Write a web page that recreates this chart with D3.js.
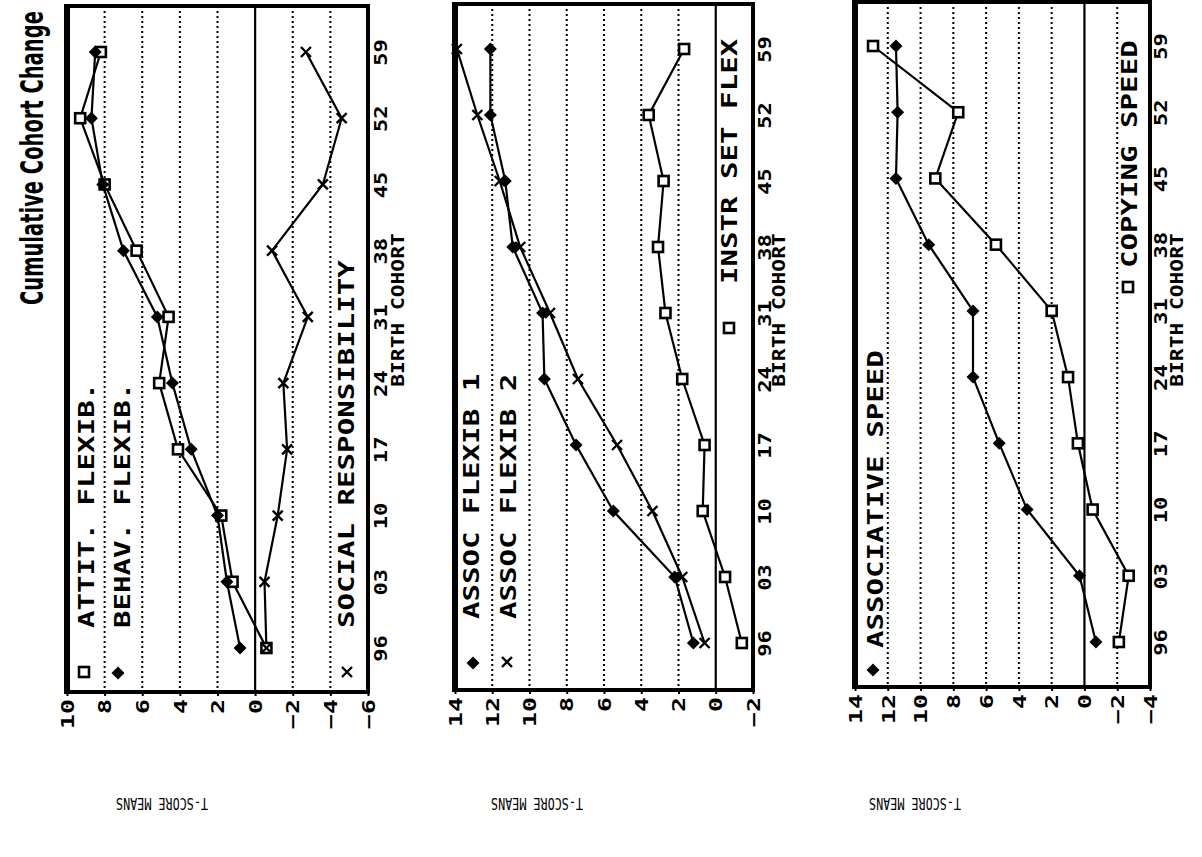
<!DOCTYPE html>
<html>
<head>
<meta charset="utf-8">
<style>
  body { margin: 0; background: #fff; }
  svg { display: block; }
  text { fill: #000; }
</style>
</head>
<body>
<svg id="chart" width="1202" height="857"></svg>
<script src="https://d3js.org/d3.v7.min.js"></script>
<script>
// birth cohorts, bottom (96) to top (59)
const cohorts = ["96", "03", "10", "17", "24", "31", "38", "45", "52", "59"];

// panel 1
const attitFlexib = [-0.6, 1.2, 1.8, 4.1, 5.1, 4.6, 6.3, 8.0, 9.3, 8.2];
const behavFlexib = [0.8, 1.5, 2.0, 3.4, 4.4, 5.2, 7.0, 8.1, 8.7, 8.5];
const socialResp = [-0.6, -0.5, -1.2, -1.7, -1.5, -2.8, -0.9, -3.6, -4.6, -2.7];
// panel 2
const assocFlexib1 = [1.2, 2.2, 5.5, 7.5, 9.2, 9.3, 10.9, 11.3, 12.1, 12.1];
const assocFlexib2 = [0.6, 1.8, 3.4, 5.3, 7.4, 8.9, 10.5, 11.6, 12.8, 13.9];
const instrSetFlex = [-1.4, -0.5, 0.7, 0.6, 1.8, 2.7, 3.1, 2.8, 3.6, 1.7];
// panel 3
const associativeSpeed = [-0.7, 0.3, 3.5, 5.2, 6.8, 6.8, 9.5, 11.5, 11.4, 11.5];
const copyingSpeed = [-2.1, -2.7, -0.5, 0.4, 1.0, 2.0, 5.4, 9.1, 7.7, 12.9];

const ticks1 = [10, 8, 6, 4, 2, 0, -2, -4, -6];
const ticks2 = [14, 12, 10, 8, 6, 4, 2, 0, -2];
const ticks3 = [14, 12, 10, 8, 6, 4, 2, 0, -2, -4];

const panels = [
  {
    box: [67, 6, 368, 692], rows: [648, 52], domain: [10, -6], ticks: ticks1,
    series: [
      { values: attitFlexib, marker: "square" },
      { values: behavFlexib, marker: "diamond" },
      { values: socialResp, marker: "cross" }
    ],
    legend: [
      { marker: "square", mx: 84, my: 672, tx: 87, ty: 628, label: "ATTIT. FLEXIB." },
      { marker: "diamond", mx: 118, my: 673, tx: 123, ty: 628, label: "BEHAV. FLEXIB." },
      { marker: "cross", mx: 347, my: 672, tx: 347, ty: 628, label: "SOCIAL RESPONSIBILITY" }
    ],
    cohortX: 381, titleX: 398, meansX: 162
  },
  {
    box: [455, 4, 753, 690], rows: [643, 49], domain: [14, -2], ticks: ticks2,
    series: [
      { values: assocFlexib1, marker: "diamond" },
      { values: assocFlexib2, marker: "cross" },
      { values: instrSetFlex, marker: "square" }
    ],
    legend: [
      { marker: "diamond", mx: 473, my: 663, tx: 472, ty: 619, label: "ASSOC FLEXIB 1" },
      { marker: "cross", mx: 507, my: 662, tx: 509, ty: 619, label: "ASSOC FLEXIB 2" },
      { marker: "square", mx: 729, my: 328, tx: 730, ty: 284, label: "INSTR SET FLEX" }
    ],
    cohortX: 765, titleX: 779, meansX: 537
  },
  {
    box: [855, 2, 1150, 687], rows: [642, 46], domain: [14, -4], ticks: ticks3,
    series: [
      { values: associativeSpeed, marker: "diamond" },
      { values: copyingSpeed, marker: "square" }
    ],
    legend: [
      { marker: "diamond", mx: 873, my: 670, tx: 876, ty: 648, label: "ASSOCIATIVE SPEED" },
      { marker: "square", mx: 1128, my: 287, tx: 1130, ty: 268, label: "COPYING SPEED" }
    ],
    cohortX: 1161, titleX: 1177, meansX: 915
  }
];

const svg = d3.select("#chart");
const MONO = "'DejaVu Sans Mono', monospace";

// vertical text reading upward, stretched along its direction like the plotter font
function upText(g, x, y, str, size, stretch, anchor) {
  return g.append("text")
    .attr("transform", `translate(${x},${y}) rotate(-90) scale(${stretch},1)`)
    .attr("font-family", MONO)
    .attr("font-weight", "bold")
    .attr("font-size", size)
    .attr("text-anchor", anchor || "start")
    .attr("dominant-baseline", "central")
    .text(str);
}

function drawMarker(g, type, x, y) {
  if (type === "square") {
    g.append("rect").attr("x", x - 5).attr("y", y - 5).attr("width", 10).attr("height", 10)
      .attr("fill", "#fff").attr("stroke", "#000").attr("stroke-width", 2.6);
  } else if (type === "diamond") {
    g.append("path").attr("d", `M${x},${y - 6.5}L${x + 6.5},${y}L${x},${y + 6.5}L${x - 6.5},${y}Z`)
      .attr("fill", "#000");
  } else {
    g.append("path").attr("d", `M${x - 5},${y - 5}L${x + 5},${y + 5}M${x - 5},${y + 5}L${x + 5},${y - 5}`)
      .attr("stroke", "#000").attr("stroke-width", 2.4).attr("fill", "none");
  }
}

// title: fitted to its span by measuring the rendered string
const title = svg.append("text")
  .attr("font-family", "'DejaVu Sans', sans-serif")
  .attr("font-weight", "bold")
  .attr("font-size", 20)
  .attr("dominant-baseline", "central")
  .text("Cumulative Cohort Change");
const titleLen = title.node().getComputedTextLength();
title.attr("transform", `translate(32,305) rotate(-90) scale(${294 / titleLen},1.6)`);

panels.forEach((p) => {
  const [left, top, right, bottom] = p.box;
  const g = svg.append("g");
  const x = d3.scaleLinear().domain(p.domain).range([left, right]);
  const y = d3.scalePoint().domain(cohorts).range(p.rows);

  // grid
  g.selectAll("line.grid").data(p.ticks.filter((t) => t !== p.domain[0] && t !== p.domain[1]))
    .enter().append("line")
    .attr("x1", (d) => x(d)).attr("x2", (d) => x(d))
    .attr("y1", top).attr("y2", bottom)
    .attr("stroke", "#000")
    .attr("stroke-width", (d) => d === 0 ? 2.2 : 2)
    .attr("stroke-dasharray", (d) => d === 0 ? null : "2,3");

  // value axis along the bottom
  const ax = g.append("g").attr("transform", `translate(0,${bottom})`)
    .call(d3.axisBottom(x).tickValues(p.ticks).tickSize(4).tickFormat(d3.format("d")));
  ax.select(".domain").remove();
  ax.selectAll(".tick line").attr("stroke-width", 2);
  ax.selectAll(".tick text")
    .attr("font-family", MONO).attr("font-weight", "bold").attr("font-size", 18)
    .attr("text-anchor", "end").attr("dy", null).attr("y", 0)
    .attr("dominant-baseline", "central")
    .attr("transform", "translate(0,7) rotate(-90) scale(1.38,1)");

  // cohort axis on the right
  const ay = g.append("g").attr("transform", `translate(${p.cohortX},0)`)
    .call(d3.axisRight(y).tickSize(0));
  ay.select(".domain").remove();
  ay.selectAll(".tick text")
    .attr("font-family", MONO).attr("font-weight", "bold").attr("font-size", 17)
    .attr("x", 0).attr("dy", null)
    .attr("text-anchor", "middle").attr("dominant-baseline", "central")
    .attr("transform", "rotate(-90) scale(1.3,1)");

  upText(g, p.titleX, 310, "BIRTH COHORT", 17, 1.25, "middle");

  // frame
  g.append("rect").attr("x", left).attr("y", top)
    .attr("width", right - left).attr("height", bottom - top)
    .attr("fill", "none").attr("stroke", "#000").attr("stroke-width", 4);
  g.append("line").attr("x1", left).attr("x2", left).attr("y1", top - 2).attr("y2", bottom + 2)
    .attr("stroke", "#000").attr("stroke-width", 6);

  // series
  const line = d3.line().x((d) => x(d)).y((d, i) => y(cohorts[i]));
  p.series.forEach((s) => {
    g.append("path").attr("d", line(s.values))
      .attr("fill", "none").attr("stroke", "#000").attr("stroke-width", 2.2);
  });
  p.series.forEach((s) => {
    s.values.forEach((v, i) => drawMarker(g, s.marker, x(v), y(cohorts[i])));
  });

  // legend
  p.legend.forEach((l) => {
    drawMarker(g, l.marker, l.mx, l.my);
    upText(g, l.tx, l.ty, l.label, 20.5, 1.42, "start");
  });

  // T-SCORE MEANS label, printed upside down
  svg.append("text")
    .attr("transform", `translate(${p.meansX},803) rotate(180)`)
    .attr("font-family", MONO)
    .attr("font-size", 16)
    .attr("text-anchor", "middle")
    .attr("dominant-baseline", "central")
    .attr("textLength", 92)
    .attr("lengthAdjust", "spacingAndGlyphs")
    .text("T-SCORE MEANS");
});
</script>
</body>
</html>
